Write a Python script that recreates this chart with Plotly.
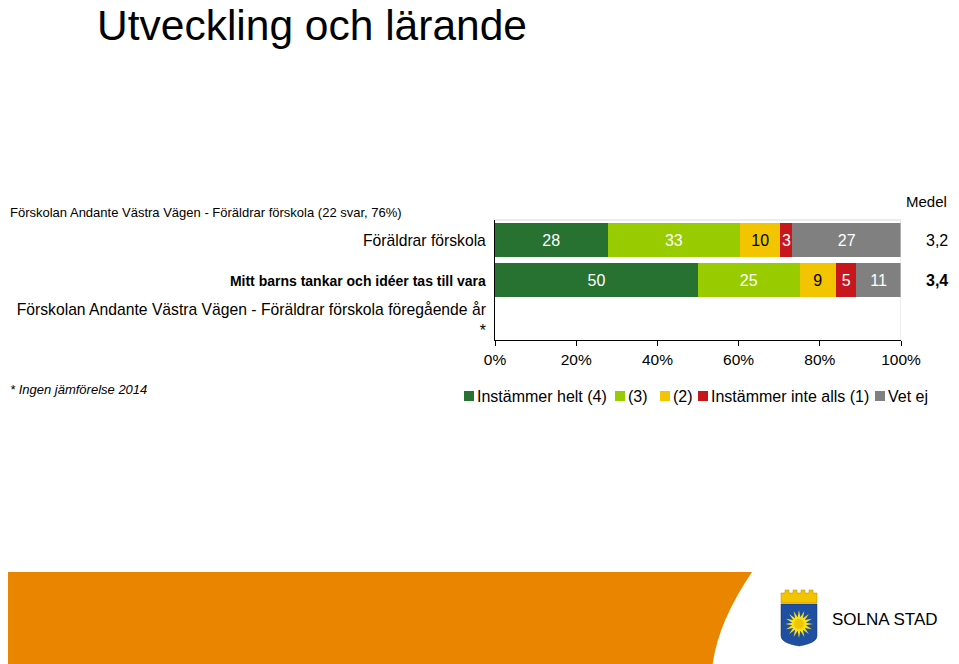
import math
import plotly.graph_objects as go

# frågor / rader
rader = ["Föräldrar förskola",
         "Mitt barns tankar och idéer tas till vara",
         "Förskolan Andante Västra Vägen - Föräldrar förskola föregående år"]
rad_etiketter = ["Föräldrar förskola",
                 "<b><span style='font-size:14px'>Mitt barns tankar och idéer tas till vara</span></b>",
                 "Förskolan Andante Västra Vägen - Föräldrar förskola föregående år<br>*"]

# svarsandelar i procent (rad 1, rad 2)
namn = ["Instämmer helt (4)", "(3)", "(2)", "Instämmer inte alls (1)", "Vet ej"]
helt = [28, 50]
tre = [33, 25]
tva = [10, 9]
inte_alls = [3, 5]
vet_ej = [27, 11]
medel = ["3,2", "<b>3,4</b>"]
x_ticks = [0, 20, 40, 60, 80, 100]
x_ticktext = ["0%", "20%", "40%", "60%", "80%", "100%"]

farger = ["#277230", "#99CC00", "#F2C500", "#C8161D", "#808080"]
textfarger = ["white", "white", "black", "white", "white"]

serier = [helt, tre, tva, inte_alls, vet_ej]
summor = [sum(s[i] for s in serier) for i in range(2)]

# sidan ritas 8 px in från hörnet
OFF = 8
W, H = 959, 664
# plot area i skärmpixlar
L, R, T, B = 495, 901, 220, 340


def px(x):
    return (x - L) / (R - L)


def py(y):
    return (B - y) / (B - T)


FONT = "Liberation Sans, Arial, sans-serif"

fig = go.Figure()
for s, n, c, tc in zip(serier, namn, farger, textfarger):
    fig.add_trace(go.Bar(
        y=rader[:2], x=[v / summor[i] * 100 for i, v in enumerate(s)],
        orientation="h", name=n, marker=dict(color=c, line=dict(width=0)),
        text=[str(v) for v in s], textposition="inside", insidetextanchor="middle",
        textangle=0, textfont=dict(color=tc, size=16, family=FONT),
        hoverinfo="skip", showlegend=False))

ann = []
# medel
ann.append(dict(x=px(949), y=py(201), xref="paper", yref="paper", text="Medel",
                showarrow=False, font=dict(size=15), xanchor="right", yanchor="middle"))
for r, m in zip(rader[:2], medel):
    ann.append(dict(x=px(937), y=r, xref="paper", yref="y", text=m, showarrow=False,
                    font=dict(size=16), xanchor="center", yanchor="middle"))
ann.append(dict(x=px(8), y=py(212), xref="paper", yref="paper",
                text="Förskolan Andante Västra Vägen - Föräldrar förskola (22 svar, 76%)",
                showarrow=False, font=dict(size=13), xanchor="left", yanchor="middle"))
ann.append(dict(x=px(8), y=py(389), xref="paper", yref="paper",
                text="<i>* Ingen jämförelse 2014</i>",
                showarrow=False, font=dict(size=13), xanchor="left", yanchor="middle"))
ann.append(dict(x=px(830), y=py(619), xref="paper", yref="paper", text="SOLNA STAD",
                showarrow=False, font=dict(size=17), xanchor="left", yanchor="middle"))

shapes = []
# förklaring
leg_x = [464, 615, 660, 698, 875]
for lx, n, c in zip(leg_x, namn, farger):
    shapes.append(dict(type="rect", xref="paper", yref="paper", x0=px(lx), x1=px(lx + 10),
                       y0=py(391), y1=py(401), fillcolor=c, line=dict(width=0)))
    ann.append(dict(x=px(lx + 11), y=py(396), xref="paper", yref="paper", text=n,
                    showarrow=False, font=dict(size=16), xanchor="left", yanchor="middle"))

# ram: linje vid 100% och överkant
shapes.append(dict(type="line", xref="x", yref="paper", x0=100, x1=100, y0=0, y1=1,
                   line=dict(color="#D9D9D9", width=1)))
shapes.append(dict(type="line", xref="x", yref="paper", x0=0, x1=100, y0=1, y1=1,
                   line=dict(color="#D9D9D9", width=1)))


def path(pts, close=True):
    s = "M " + " L ".join(f"{px(x)},{py(y)}" for x, y in pts)
    return s + (" Z" if close else "")


# orange band
shapes.append(dict(type="path", xref="paper", yref="paper", layer="below",
                   path=f"M {px(0)},{py(572)} L {px(752)},{py(572)} "
                        f"Q {px(716)},{py(625)} {px(712)},{py(670)} L {px(0)},{py(670)} Z",
                   fillcolor="#EA8500", line=dict(width=0)))

# vapensköld
shapes.append(dict(type="path", xref="paper", yref="paper",
                   path=path([(781, 593), (785, 593), (785, 590), (789, 590), (789, 593),
                              (793, 593), (793, 590), (797, 590), (797, 593), (801, 593),
                              (801, 590), (805, 590), (805, 593), (809, 593), (809, 590),
                              (813, 590), (813, 593), (817, 593), (817, 603), (781, 603)]),
                   fillcolor="#F2C500", line=dict(color="#B08A00", width=0.5)))
shapes.append(dict(type="path", xref="paper", yref="paper",
                   path=f"M {px(781)},{py(604)} L {px(817)},{py(604)} L {px(817)},{py(636)} "
                        f"Q {px(817)},{py(643)} {px(799)},{py(646)} "
                        f"Q {px(781)},{py(643)} {px(781)},{py(636)} Z",
                   fillcolor="#1F4FA0", line=dict(color="#16356E", width=0.5)))
stjarna = []
for k in range(32):
    r = 14 if k % 2 == 0 else 7
    a = math.pi * k / 16
    stjarna.append((799 + r * math.cos(a), 624 + r * math.sin(a)))
shapes.append(dict(type="path", xref="paper", yref="paper", path=path(stjarna),
                   fillcolor="#F7E11A", line=dict(width=0)))
shapes.append(dict(type="circle", xref="paper", yref="paper", x0=px(794), x1=px(804),
                   y0=py(619), y1=py(629), fillcolor="#F2C500", line=dict(width=0)))

fig.update_layout(
    width=W - OFF, height=H - OFF,
    margin=dict(l=L - OFF, r=W - R, t=T - OFF, b=H - B, pad=0, autoexpand=False),
    paper_bgcolor="white", plot_bgcolor="white",
    font=dict(family=FONT, size=16, color="black"),
    barmode="stack", bargap=0.13,
    title=dict(text="Utveckling och lärande", x=(97 - OFF) / (W - OFF), xref="container",
               xanchor="left", y=1 - (25 - OFF) / (H - OFF), yref="container",
               yanchor="middle", font=dict(size=42.5, family=FONT, color="black")),
    xaxis=dict(range=[0, 100], tickvals=x_ticks, ticktext=x_ticktext, automargin=False,
               showgrid=False, zeroline=False, showline=True, linecolor="black",
               linewidth=1, ticks="outside", ticklen=5, tickcolor="black",
               tickfont=dict(size=15.5)),
    yaxis=dict(categoryorder="array", categoryarray=rader, tickvals=rader,
               ticktext=rad_etiketter, range=[2.5, -0.5], autorange=False, automargin=False,
               showgrid=False, zeroline=False, showline=True, linecolor="black",
               linewidth=1, ticks="", ticklabelstandoff=5, tickfont=dict(size=15.7)),
    uniformtext=dict(mode="show", minsize=16),
    annotations=ann, shapes=shapes,
)

fig.write_html("out.html")
